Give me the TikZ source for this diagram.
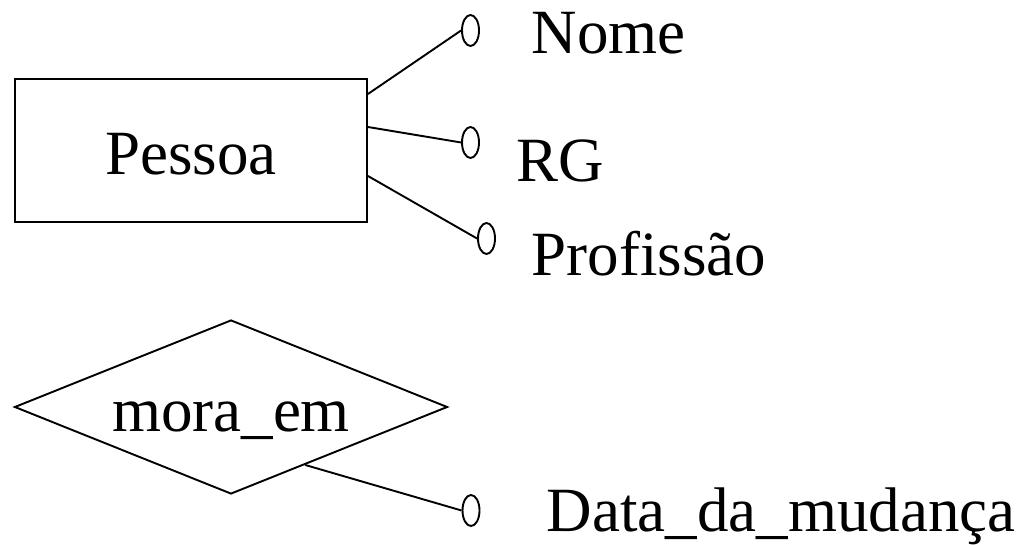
\documentclass[tikz,border=0pt]{standalone}
\usepackage{fontspec}
\setmainfont{Liberation Serif}
\usetikzlibrary{shapes.geometric}

\begin{document}
\begin{tikzpicture}[x=1pt,y=-1pt,line width=1.9pt,
  big/.style={font=\fontsize{63}{70}\selectfont},
  entidade/.style={draw,rectangle,big,minimum width=352pt,minimum height=143pt,text height=48pt,text depth=0pt,inner sep=0pt},
  relacao/.style={draw,diamond,big,aspect=2.49,minimum width=433pt,minimum height=174pt,text height=48pt,text depth=0pt,inner sep=0pt},
  atrib/.style={draw,ellipse,minimum width=17pt,minimum height=31pt,inner sep=0pt},
  rotulo/.style={big,anchor=base west,inner sep=0pt}]
\useasboundingbox (0,0) rectangle (1027,545);
\node[entidade] (pessoa) at (191,150.5) {Pessoa};
\node[relacao] (mora) at (231,407) {mora\_em};
\node[atrib] (anome) at (470.5,30.5) {};
\node[atrib] (arg) at (470.5,142.5) {};
\node[atrib] (aprof) at (486.5,238.5) {};
\node[atrib] (adata) at (471,510.5) {};
\node[rotulo] (tnome) at (531,54) {Nome};
\node[rotulo] (trg) at (516,182) {RG};
\node[rotulo] (tprof) at (531,275) {Profissão};
\node[rotulo] (tdata) at (546,531) {Data\_da\_mudança};
\foreach \a/\s in {anome/56.5,arg/23.5,aprof/-25.5}
  \draw ([yshift=\s pt]pessoa.east) -- (\a.west);
\draw (mora.-38.4) -- (adata.west);
\end{tikzpicture}
\end{document}
